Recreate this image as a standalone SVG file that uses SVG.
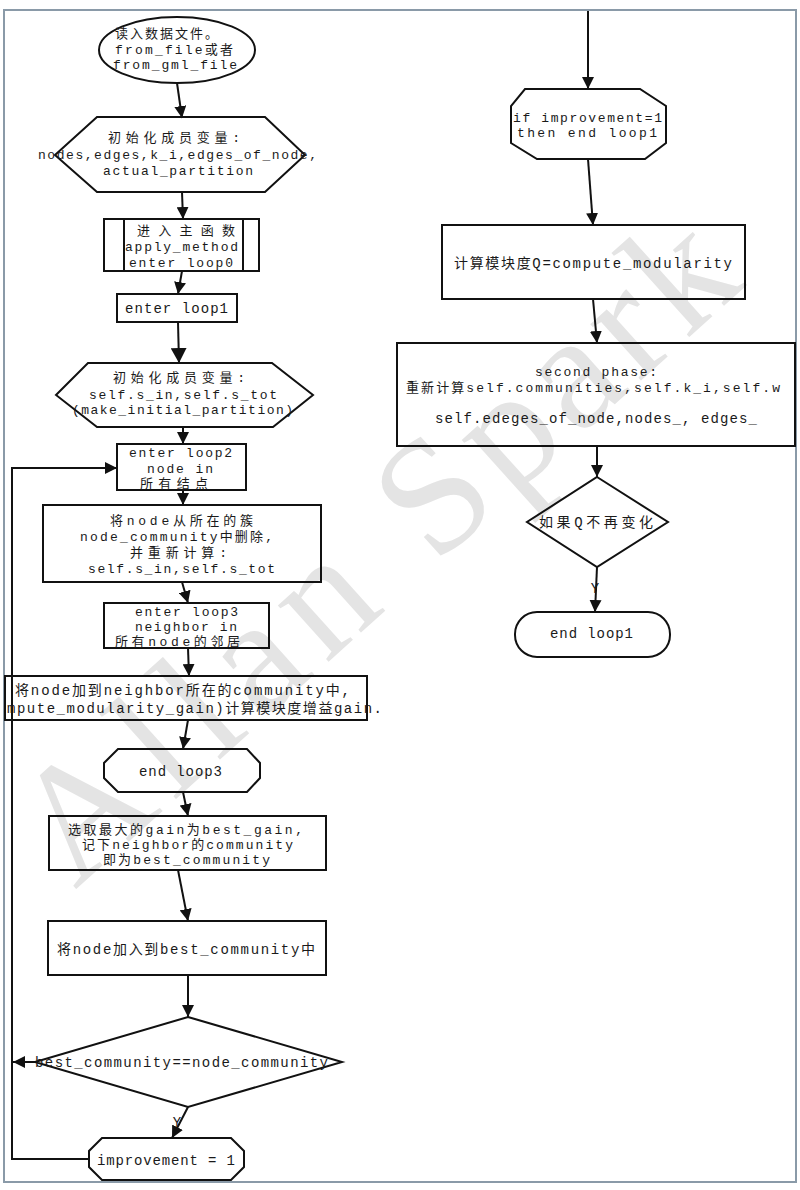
<svg xmlns="http://www.w3.org/2000/svg" width="800" height="1190" viewBox="0 0 800 1190">
<defs>
<style>
.s{fill:none;stroke:#111;stroke-width:2}
.t{font-family:"Liberation Mono","Noto Sans CJK SC",monospace;font-size:14px;fill:#1a1a1a}
.m{font-size:13px}
.c{fill:none;stroke:#111;stroke-width:2}
.wm{font-family:"Liberation Serif",serif;font-size:165px;fill:#e4e4e4}
</style>
<marker id="ah" markerUnits="userSpaceOnUse" markerWidth="12" markerHeight="12" refX="12" refY="6" orient="auto"><path d="M0,0 L12,6 L0,12 z" fill="#111"/></marker>
<marker id="ahb" markerUnits="userSpaceOnUse" markerWidth="15" markerHeight="16" refX="15" refY="8" orient="auto"><path d="M0,0 L15,8 L0,16 z" fill="#111"/></marker>
</defs>
<rect width="800" height="1190" fill="#fff"/>
<rect x="4" y="10" width="792" height="1172" fill="none" stroke="#8a9aa8" stroke-width="2"/>
<g id="watermark">
<text class="wm" x="0" y="0" transform="translate(75 890) rotate(-42)" textLength="420" lengthAdjust="spacing">Allan</text>
<text class="wm" x="0" y="0" transform="translate(435 566) rotate(-42)" textLength="420" lengthAdjust="spacing">Spark</text>
</g>

<g id="connectors">
<line class="c" x1="177" y1="83" x2="182" y2="118" marker-end="url(#ah)"/>
<line class="c" x1="182" y1="192" x2="183" y2="219" marker-end="url(#ah)"/>
<line class="c" x1="182" y1="271" x2="178" y2="294" marker-end="url(#ah)"/>
<line class="c" x1="178" y1="322" x2="179" y2="363" marker-end="url(#ahb)"/>
<line class="c" x1="183" y1="427" x2="183" y2="444" marker-end="url(#ah)"/>
<line class="c" x1="183" y1="490" x2="183" y2="505" marker-end="url(#ah)"/>
<line class="c" x1="182" y1="582" x2="188" y2="603" marker-end="url(#ah)"/>
<line class="c" x1="188" y1="648" x2="189" y2="676" marker-end="url(#ah)"/>
<line class="c" x1="188" y1="720" x2="183" y2="749" marker-end="url(#ah)"/>
<line class="c" x1="183" y1="792" x2="188" y2="816" marker-end="url(#ah)"/>
<line class="c" x1="178" y1="870" x2="188" y2="921" marker-end="url(#ah)"/>
<line class="c" x1="188" y1="975" x2="188" y2="1017" marker-end="url(#ah)"/>
<line class="c" x1="188" y1="1107" x2="172" y2="1138" marker-end="url(#ah)"/>
<line class="c" x1="35" y1="1062" x2="13" y2="1062" marker-end="url(#ah)"/>
<polyline class="c" points="89,1159 12,1159 12,468 117,468" marker-end="url(#ah)"/>
<text class="t" x="177" y="1127" text-anchor="middle" font-size="14">Y</text>
<line class="c" x1="588" y1="11" x2="588" y2="89" marker-end="url(#ah)"/>
<line class="c" x1="588" y1="159" x2="593" y2="225" marker-end="url(#ah)"/>
<line class="c" x1="593" y1="299" x2="597" y2="343" marker-end="url(#ah)"/>
<line class="c" x1="597" y1="446" x2="597" y2="477" marker-end="url(#ah)"/>
<line class="c" x1="597" y1="567" x2="595" y2="612" marker-end="url(#ah)"/>
<text class="t" x="595" y="593" text-anchor="middle" font-size="14">Y</text>
</g>

<g id="n1">
<ellipse class="s" cx="177" cy="50" rx="78" ry="33"/>
<text class="t m" x="115" y="38" textLength="103">读入数据文件。</text>
<text class="t m" x="115" y="54" textLength="118">from_file或者</text>
<text class="t m" x="113" y="69" textLength="124">from_gml_file</text>
</g>
<g id="n2">
<polygon class="s" points="55,155 97,117 265,117 305,155 265,192 97,192"/>
<text class="t m" x="108" y="142" textLength="132">初始化成员变量:</text>
<text class="t m" x="38" y="159" textLength="279">nodes,edges,k_i,edges_of_node,</text>
<text class="t m" x="103" y="175" textLength="150">actual_partition</text>
</g>
<g id="n3">
<rect class="s" x="104" y="219" width="155" height="52"/>
<line class="s" x1="124" y1="219" x2="124" y2="271"/>
<line class="s" x1="243" y1="219" x2="243" y2="271"/>
<text class="t m" x="137" y="235" textLength="98">进入主函数</text>
<text class="t m" x="125" y="251" textLength="113">apply_method</text>
<text class="t m" x="129" y="267" textLength="104">enter loop0</text>
</g>
<g id="n4">
<rect class="s" x="117" y="294" width="120" height="28"/>
<text class="t" x="125" y="313" textLength="103">enter loop1</text>
</g>
<g id="n5">
<polygon class="s" points="56,395 88,363 272,363 313,395 273,427 97,427"/>
<text class="t m" x="113" y="382" textLength="132">初始化成员变量:</text>
<text class="t m" x="89" y="399" textLength="188">self.s_in,self.s_tot</text>
<text class="t m" x="72" y="414" textLength="221">(make_initial_partition)</text>
</g>
<g id="n6">
<rect class="s" x="117" y="444" width="129" height="46"/>
<text class="t m" x="129" y="457" textLength="103">enter loop2</text>
<text class="t m" x="147" y="473" textLength="66">node in</text>
<text class="t m" x="140" y="488" textLength="68">所有结点</text>
</g>
<g id="n7">
<rect class="s" x="43" y="505" width="278" height="77"/>
<text class="t m" x="110" y="525" textLength="143">将node从所在的簇</text>
<text class="t m" x="80" y="541" textLength="193">node_community中删除,</text>
<text class="t m" x="130" y="557" textLength="97">并重新计算:</text>
<text class="t m" x="88" y="573" textLength="187">self.s_in,self.s_tot</text>
</g>
<g id="n8">
<rect class="s" x="104" y="603" width="165" height="45"/>
<text class="t m" x="135" y="616" textLength="103">enter loop3</text>
<text class="t m" x="135" y="631" textLength="102">neighbor in</text>
<text class="t m" x="115" y="646" textLength="125">所有node的邻居</text>
</g>
<g id="n9">
<rect class="s" x="5" y="676" width="362" height="44"/>
<text class="t" x="15" y="695" textLength="335">将node加到neighbor所在的community中,</text>
<text class="t" x="7" y="713" textLength="375">mpute_modularity_gain)计算模块度增益gain.</text>
</g>
<g id="n10">
<polygon class="s" points="118,749 247,749 260,763 260,778 247,792 118,792 104,778 104,763"/>
<text class="t" x="139" y="776" textLength="83">end loop3</text>
</g>
<g id="n11">
<rect class="s" x="49" y="816" width="277" height="54"/>
<text class="t m" x="68" y="834" textLength="235">选取最大的gain为best_gain,</text>
<text class="t m" x="82" y="849" textLength="211">记下neighbor的community</text>
<text class="t m" x="103" y="864" textLength="167">即为best_community</text>
</g>
<g id="n12">
<rect class="s" x="48" y="921" width="278" height="54"/>
<text class="t" x="57" y="954" textLength="258">将node加入到best_community中</text>
</g>
<g id="n13">
<polygon class="s" points="188,1017 342,1062 188,1107 35,1062"/>
<text class="t" x="35" y="1067" textLength="293">best_community==node_community</text>
</g>
<g id="n14">
<polygon class="s" points="102,1138 231,1138 244,1151 244,1167 231,1180 102,1180 89,1167 89,1151"/>
<text class="t" x="97" y="1165" textLength="138">improvement = 1</text>
</g>

<g id="r1">
<polygon class="s" points="525,89 640,89 666,106 666,143 645,159 537,159 511,143 511,106"/>
<text class="t m" x="513" y="122" textLength="149">if improvement=1</text>
<text class="t m" x="517" y="137" textLength="140">then end loop1</text>
</g>
<g id="r2">
<rect class="s" x="442" y="225" width="303" height="74"/>
<text class="t" x="454" y="268" textLength="278">计算模块度Q=compute_modularity</text>
</g>
<g id="r3">
<rect class="s" x="397" y="343" width="398" height="103"/>
<text class="t m" x="535" y="376" textLength="122">second phase:</text>
<text class="t m" x="406" y="392" textLength="374">重新计算self.communities,self.k_i,self.w</text>
<text class="t" x="435" y="423" textLength="322">self.edeges_of_node,nodes_, edges_</text>
</g>
<g id="r4">
<polygon class="s" points="597,477 668,522 597,567 527,522"/>
<text class="t" x="539" y="527" textLength="114">如果Q不再变化</text>
</g>
<g id="r5">
<rect class="s" x="515" y="612" width="155" height="45" rx="22" ry="22"/>
<text class="t" x="550" y="638" textLength="83">end loop1</text>
</g>
</svg>
